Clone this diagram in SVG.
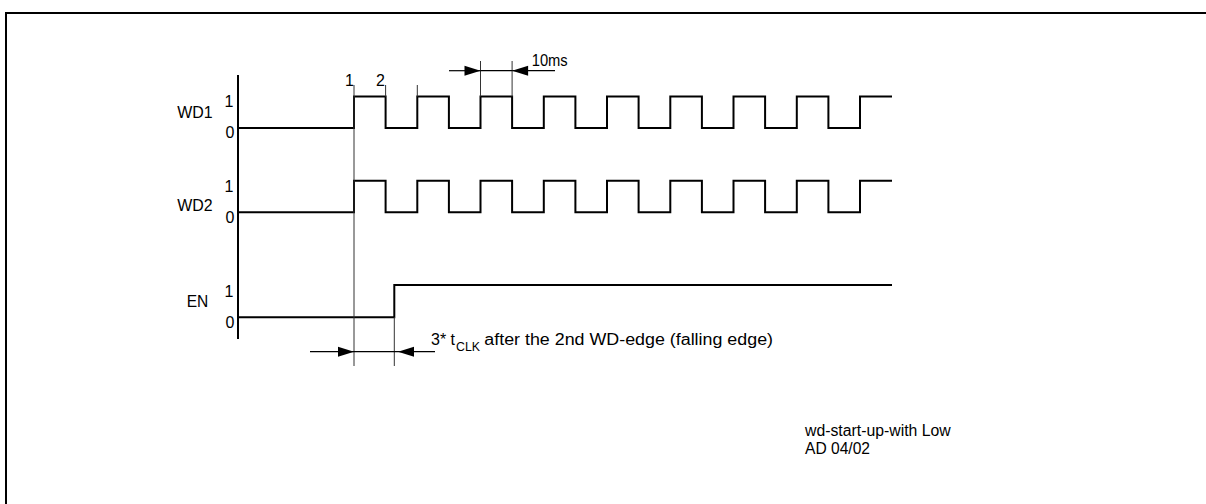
<svg xmlns="http://www.w3.org/2000/svg" width="1206" height="504" viewBox="0 0 1206 504">
<style>
text{font-family:"Liberation Sans",Arial,sans-serif;font-size:16px;fill:#000}
.sig{fill:none;stroke:#000;stroke-width:2}
.thin{fill:none;stroke:#333;stroke-width:1}
.arr{fill:none;stroke:#000;stroke-width:1.2}
.lvl{text-anchor:end}
.sub{font-size:12.5px}
</style>
<defs>
<marker id="ah" markerUnits="userSpaceOnUse" markerWidth="18" markerHeight="12" refX="17" refY="6" orient="auto">
<path d="M1,1 L17,6 L1,11 Z" fill="#000"/>
</marker>
</defs>
<rect width="1206" height="504" fill="#fff"/>
<path d="M6,504 V13 H1206" fill="none" stroke="#000" stroke-width="2"/>

<g id="axis"><path class="sig" d="M238,75 V339"/></g>

<g id="WD1">
<text x="177.3" y="118.3" textLength="35.4" lengthAdjust="spacingAndGlyphs">WD1</text>
<text class="lvl" x="233.5" y="106.7">1</text>
<text class="lvl" x="234.5" y="138.3">0</text>
<path class="sig" d="M238,128 H354 V96.5 H385.6 V128 H417.3 V96.5 H448.9 V128 H480.5 V96.5 H512.1 V128 H543.8 V96.5 H575.4 V128 H607 V96.5 H638.6 V128 H670.3 V96.5 H701.9 V128 H733.5 V96.5 H765.1 V128 H796.8 V96.5 H828.4 V128 H860 V96.5 H892"/>
</g>

<g id="WD2">
<text x="177.3" y="211" textLength="35.4" lengthAdjust="spacingAndGlyphs">WD2</text>
<text class="lvl" x="233.5" y="191.7">1</text>
<text class="lvl" x="234.5" y="223">0</text>
<path class="sig" d="M238,212.3 H354 V180.8 H385.6 V212.3 H417.3 V180.8 H448.9 V212.3 H480.5 V180.8 H512.1 V212.3 H543.8 V180.8 H575.4 V212.3 H607 V180.8 H638.6 V212.3 H670.3 V180.8 H701.9 V212.3 H733.5 V180.8 H765.1 V212.3 H796.8 V180.8 H828.4 V212.3 H860 V180.8 H892"/>
</g>

<g id="EN">
<text x="186.7" y="306.7" textLength="21.6" lengthAdjust="spacingAndGlyphs">EN</text>
<text class="lvl" x="233.5" y="296.7">1</text>
<text class="lvl" x="234.5" y="328.3">0</text>
<path class="sig" d="M238,317.3 H394.3 V285 H892"/>
</g>

<g id="connectors">
<path class="thin" d="M354,85 V366 M394.3,317 V366 M385.6,85 V96.5 M417.3,85 V96.5 M480.5,61 V96.5 M512.1,61 V96.5"/>
<path class="arr" d="M449,70.7 H480.5" marker-end="url(#ah)"/>
<path class="arr" d="M480.5,70.7 H512.1"/>
<path class="arr" d="M555,70.7 H512.1" marker-end="url(#ah)"/>
<path class="arr" d="M310,351.7 H354" marker-end="url(#ah)"/>
<path class="arr" d="M354,351.7 H398"/>
<path class="arr" d="M435,351.7 H398" marker-end="url(#ah)"/>
</g>

<g id="labels">
<text x="345" y="86">1</text>
<text x="376" y="86">2</text>
<text x="531.7" y="66" textLength="36" lengthAdjust="spacingAndGlyphs">10ms</text>
<text x="431" y="345">3* t</text>
<text class="sub" x="456" y="351" textLength="24" lengthAdjust="spacingAndGlyphs">CLK</text>
<text x="484.3" y="345" textLength="288.7" lengthAdjust="spacingAndGlyphs">after the 2nd WD-edge (falling edge)</text>
<text x="805" y="435.7" textLength="145.7" lengthAdjust="spacingAndGlyphs">wd-start-up-with Low</text>
<text x="805" y="454" textLength="65" lengthAdjust="spacingAndGlyphs">AD 04/02</text>
</g>
</svg>
